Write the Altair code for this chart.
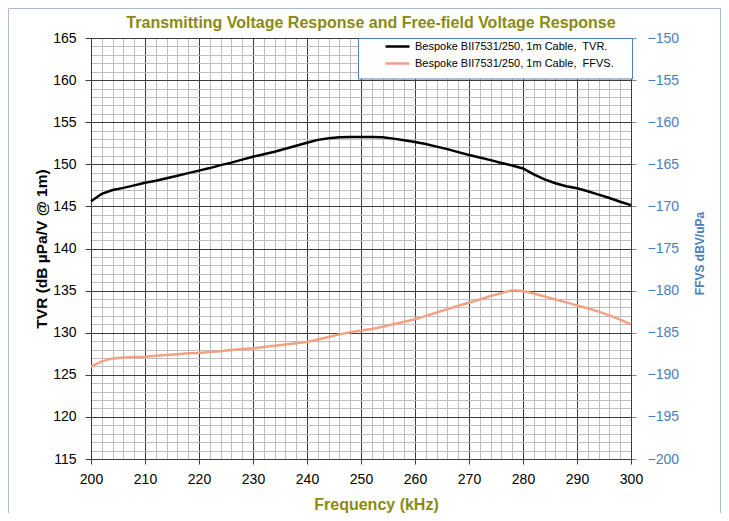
import altair as alt
import pandas as pd

# ---------------- data ----------------
FREQ = [200, 202, 204, 206, 208, 210, 212, 214, 216, 218, 220, 222, 224, 226, 228,
        230, 232, 234, 236, 238, 240, 242, 244, 246, 248, 250, 252, 254, 256, 258,
        260, 262, 264, 266, 268, 270, 272, 274, 276, 278, 280, 282, 284, 286, 288,
        290, 292, 294, 296, 298, 300]
TVR = [145.6, 146.5, 146.95, 147.2, 147.5, 147.8, 148.05, 148.35, 148.65, 148.95,
       149.25, 149.55, 149.9, 150.2, 150.55, 150.9, 151.2, 151.5, 151.85, 152.2,
       152.55, 152.9, 153.1, 153.2, 153.25, 153.25, 153.25, 153.2, 153.05, 152.85,
       152.65, 152.4, 152.1, 151.8, 151.45, 151.1, 150.8, 150.5, 150.15, 149.85,
       149.5, 148.8, 148.2, 147.75, 147.4, 147.15, 146.8, 146.4, 146.0, 145.55, 145.15]
FFVS = [-189.0, -188.4, -188.05, -187.95, -187.9, -187.85, -187.75, -187.65, -187.55,
        -187.45, -187.4, -187.3, -187.2, -187.05, -186.95, -186.85, -186.7, -186.55,
        -186.4, -186.25, -186.1, -185.8, -185.5, -185.2, -184.95, -184.75, -184.55,
        -184.3, -184.0, -183.7, -183.4, -183.0, -182.6, -182.2, -181.8, -181.45,
        -181.05, -180.65, -180.3, -179.95, -180.05, -180.35, -180.7, -181.05, -181.4,
        -181.75, -182.1, -182.5, -182.95, -183.45, -184.0]
SERIES = ["Bespoke BII7531/250, 1m Cable,\u00a0 TVR.",
          "Bespoke BII7531/250, 1m Cable,\u00a0 FFVS."]
COLORS = ["#000000", "#F2A283"]
X_TICKS = list(range(200, 301, 2))
Y_LEFT_TICKS = list(range(115, 166))
Y_RIGHT_TICKS = list(range(-200, -149, 5))

TITLE = "Transmitting Voltage Response and Free-field Voltage Response"
X_TITLE = "Frequency (kHz)"
Y_LEFT_TITLE = "TVR (dB µPa/V @ 1m)"
Y_RIGHT_TITLE = "FFVS dBV/uPa"

# ---------------- styles ----------------
W, H = 540, 421
MAJOR = "#3c3c3c"
MINOR = "#bdbdbd"
OLIVE = "#8A8A12"
BLUE = "#4A7EBB"
FONT = "Liberation Sans"

tvr_df = pd.DataFrame({"freq": FREQ, "val": TVR, "series": SERIES[0]})
ffvs_df = pd.DataFrame({"freq": FREQ, "val": FFVS, "series": SERIES[1]})

legend = alt.Legend(
    orient="none", legendX=300, legendY=2, padding=0, offset=0,
    symbolType="M-2.4,0H2.4", symbolSize=100, symbolStrokeWidth=2.5,
    labelFont=FONT, labelFontSize=11, labelColor="#000000", labelLimit=400,
    labelOffset=11, rowPadding=5, fillColor="transparent",
)
color = alt.Color("series:N", title=None,
                  scale=alt.Scale(domain=SERIES, range=COLORS), legend=legend)

x_enc = alt.X(
    "freq:Q",
    scale=alt.Scale(domain=[200, 300], nice=False, zero=False),
    axis=alt.Axis(
        values=X_TICKS, title=X_TITLE,
        labelExpr="datum.value % 10 === 0 ? datum.label : ''",
        gridColor={"condition": {"test": "datum.value % 10 === 0", "value": MAJOR}, "value": MINOR},
        tickOpacity={"condition": {"test": "datum.value % 10 === 0", "value": 1}, "value": 0},
        tickColor=MAJOR, tickSize=5, domainColor=MAJOR,
        labelFont=FONT, labelFontSize=14, labelColor="#000000", labelPadding=8,
        labelFlush=False, labelOverlap=False,
        titleFont=FONT, titleFontSize=16, titleFontWeight="bold", titleColor=OLIVE,
        titleX=285, titleY=50, titleBaseline="alphabetic", titleAlign="center",
    ),
)

y_left = alt.Y(
    "val:Q",
    scale=alt.Scale(domain=[115, 165], nice=False, zero=False),
    axis=alt.Axis(
        orient="left", values=Y_LEFT_TICKS, title=Y_LEFT_TITLE,
        labelExpr="datum.value % 5 === 0 ? datum.label : ''",
        gridColor={"condition": {"test": "datum.value % 5 === 0", "value": MAJOR}, "value": MINOR},
        tickOpacity={"condition": {"test": "datum.value % 5 === 0", "value": 1}, "value": 0},
        tickColor=MAJOR, tickSize=6, domainColor=MAJOR,
        labelFont=FONT, labelFontSize=14, labelColor="#000000", labelPadding=9,
        labelOverlap=False, labelFlush=False,
        titleFont=FONT, titleFontSize=15.5, titleFontWeight="bold", titleColor="#000000",
        titleAngle=270, titleX=-45, titleY=H / 2, titleBaseline="alphabetic", titleAlign="center",
    ),
)

y_right = alt.Y(
    "val:Q",
    scale=alt.Scale(domain=[-200, -150], nice=False, zero=False),
    axis=alt.Axis(
        orient="right", values=Y_RIGHT_TICKS, title=Y_RIGHT_TITLE, grid=False,
        tickColor="#888888", tickSize=5, domainColor=MAJOR,
        labelFont=FONT, labelFontSize=14, labelColor=BLUE, labelPadding=11,
        labelOverlap=False, labelFlush=False,
        titleFont=FONT, titleFontSize=12, titleFontWeight="bold", titleColor=BLUE,
        titleAngle=270, titleX=72, titleY=215, titleBaseline="alphabetic", titleAlign="center",
    ),
)

one = alt.Data(values=[{}])

frame = alt.Chart(one).mark_rect(fill="transparent", stroke="#A9BCD5", strokeWidth=1).encode(
    x=alt.value(-82.5), x2=alt.value(W + 89.5), y=alt.value(-29.5), y2=alt.value(H + 70)
)

title_text = alt.Chart(one).mark_text(
    text=TITLE, font=FONT, fontSize=16, fontWeight="bold", color=OLIVE,
    align="center", baseline="alphabetic"
).encode(x=alt.value(280), y=alt.value(-10))

tvr_line = alt.Chart(tvr_df).mark_line(strokeWidth=2.5).encode(
    x=x_enc, y=y_left, color=color
)
ffvs_line = alt.Chart(ffvs_df).mark_line(strokeWidth=2.5).encode(
    x=x_enc, y=y_right, color=color
)

legend_box = alt.Chart(one).mark_rect(fill="#ffffff", stroke=BLUE, strokeWidth=1).encode(
    x=alt.value(267.5), x2=alt.value(541.5), y=alt.value(0.5), y2=alt.value(41)
)

chart = alt.layer(frame, title_text, tvr_line, ffvs_line, legend_box).resolve_scale(
    y="independent"
).properties(
    width=W, height=H,
    autosize=alt.AutoSizeParams(type="none"),
    padding={"left": 83, "top": 30, "right": 90, "bottom": 54},
    background="#ffffff",
).configure_view(stroke=None)

chart.save("out.html", embed_options={"renderer": "svg", "actions": False})
